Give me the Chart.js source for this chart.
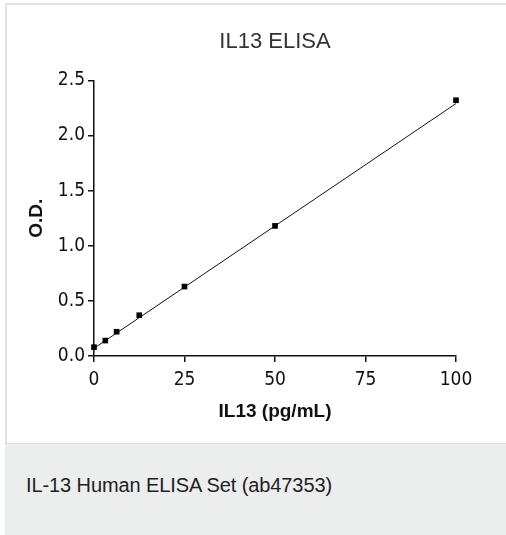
<!DOCTYPE html>
<html>
<head>
<meta charset="utf-8">
<script src="https://cdn.jsdelivr.net/npm/chart.js@4"></script>
<style>
  html, body { margin: 0; padding: 0; background: #fff; }
  #frame {
    position: absolute; left: 5px; top: 3px; width: 499px; height: 438px;
    border-top: 2px solid #e2e2e2; border-left: 2px solid #e2e2e2; background: #fff;
  }
  #plot { position: absolute; left: 0; top: 0; width: 499px; height: 438px; }
  #caption {
    position: absolute; left: 5px; top: 443px; width: 501px; height: 92px;
    background: #eceded; border-top: 1px solid #dcdddd; box-sizing: border-box;
    font-family: "Liberation Sans", Arial, sans-serif; font-size: 20px; color: #222;
    padding: 30px 0 0 21px; letter-spacing: -0.1px;
  }
</style>
</head>
<body>
<div id="frame"><div id="plot"><canvas id="c"></canvas></div></div>
<div id="caption">IL-13 Human ELISA Set (ab47353)</div>
<script>
// standards: concentration (pg/mL) vs optical density
const concentrations = [0, 3.125, 6.25, 12.5, 25, 50, 100];
const odValues = [0.08, 0.14, 0.22, 0.37, 0.63, 1.18, 2.32];
// fitted standard curve, end points
const fitX = [0, 100];
const fitY = [0.07, 2.29];
const xTicks = [0, 25, 50, 75, 100];
const yTicks = [0.0, 0.5, 1.0, 1.5, 2.0, 2.5];

const narrow = "'Liberation Sans Narrow', 'DejaVu Sans Condensed', Arial, sans-serif";

const toPoints = (xs, ys) => xs.map((x, i) => ({ x: x, y: ys[i] }));

new Chart(document.getElementById('c'), {
    type: 'scatter',
    data: {
        datasets: [{
            label: 'Standards',
            data: toPoints(concentrations, odValues),
            pointStyle: 'rect',
            pointRadius: 4,
            backgroundColor: '#000',
            borderColor: '#000',
            borderWidth: 0,
            clip: false
        }, {
            label: 'Fit',
            data: toPoints(fitX, fitY),
            showLine: true,
            pointRadius: 0,
            borderColor: '#111',
            borderWidth: 1,
            clip: false
        }]
    },
    options: {
        responsive: true,
        maintainAspectRatio: false,
        animation: false,
        layout: { padding: { left: 0, right: 50, top: 0, bottom: 20 } },
        plugins: {
            legend: { display: false },
            tooltip: { enabled: false },
            title: {
                display: true,
                text: 'IL13 ELISA',
                fullSize: false,
                color: '#333',
                font: { family: "'Liberation Sans', Arial, sans-serif", size: 22, weight: 'normal' },
                padding: { top: 24, bottom: 25 }
            }
        },
        scales: {
            x: {
                type: 'linear',
                min: 0,
                max: 100,
                afterBuildTicks: s => { s.ticks = xTicks.map(v => ({ value: v })); },
                afterFit: s => { s.height = 67; },
                ticks: {
                    color: '#111',
                    padding: 7,
                    maxRotation: 0,
                    font: { family: narrow, size: 19 }
                },
                grid: { drawOnChartArea: false, tickLength: 6, color: '#111', lineWidth: 1.5 },
                border: { display: true, color: '#111', width: 1.5 },
                title: {
                    display: true,
                    text: 'IL13 (pg/mL)',
                    color: '#111',
                    font: { family: "'Liberation Sans', Arial, sans-serif", size: 19, weight: 'bold' },
                    padding: { top: 0, bottom: 0 }
                }
            },
            y: {
                min: 0,
                max: 2.5,
                afterBuildTicks: s => { s.ticks = yTicks.map(v => ({ value: v })); },
                afterFit: s => { s.width = 87; },
                ticks: {
                    color: '#111',
                    padding: 3,
                    callback: v => v.toFixed(1),
                    font: { family: narrow, size: 19 }
                },
                grid: { drawOnChartArea: false, tickLength: 6, color: '#111', lineWidth: 1.5 },
                border: { display: true, color: '#111', width: 1.5 },
                title: {
                    display: true,
                    text: 'O.D.',
                    color: '#111',
                    font: { family: "'Liberation Sans', Arial, sans-serif", size: 19, weight: 'bold' },
                    padding: { top: 18, bottom: 0 }
                }
            }
        }
    }
});
</script>
</body>
</html>
